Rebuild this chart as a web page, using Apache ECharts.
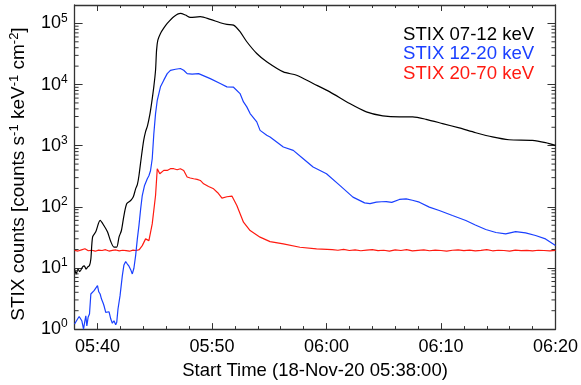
<!DOCTYPE html>
<html>
<head>
<meta charset="utf-8">
<script src="https://cdn.jsdelivr.net/npm/echarts@6/dist/echarts.min.js"></script>
<style>
  html, body { margin: 0; padding: 0; background: #fff; }
  #chart { width: 581px; height: 385px; }
</style>
</head>
<body>
<div id="chart"></div>
<script>
// Time is in minutes after the start time 05:38:00 (18-Nov-20).
const startHour = 5;
const startMinute = 38;
const timeSpan = 42;

const seriesNames = ['STIX 07-12 keV', 'STIX 12-20 keV', 'STIX 20-70 keV'];
const seriesColors = ['#000000', '#1a40ff', '#ff1a10'];

// Labelled (major) time ticks, minutes after start: 05:40 ... 06:20
const majorTimeTicks = [2, 12, 22, 32, 42];
// Minor log ticks inside each decade
const minorMultipliers = [2, 3, 4, 5, 6, 7, 8, 9];
const decades = [1, 10, 100, 1000, 10000, 100000];

// STIX 07-12 keV
const lowTime = [0.0, 0.15, 0.3, 0.45, 0.7, 0.85, 1.0, 1.15, 1.3, 1.42, 1.57, 1.85, 2.23, 2.57, 2.87,
  3.16, 3.44, 3.68, 3.88, 4.09, 4.31, 4.55, 4.9, 5.13, 5.33, 5.48, 5.62, 5.81, 6.03, 6.2, 6.37,
  6.57, 6.72, 6.92, 7.07, 7.16, 7.27, 7.5, 7.77, 8.09, 8.66, 9.24, 9.68, 10.11, 10.98, 11.85,
  12.72, 13.3, 13.88, 14.45, 15.04, 15.91, 16.78, 18.23, 19.39, 20.83, 22.29, 24.03, 25.48,
  26.92, 28.37, 29.53, 30.7, 32.14, 33.59, 35.04, 36.49, 37.94, 39.97, 41.13, 42.0];
const lowCounts = [9.6, 8.0, 9.6, 8.7, 10.4, 10.8, 9.6, 10.4, 11.0, 14, 32, 39, 60, 49, 39,
  27, 22, 22, 32, 41, 72, 112, 127, 146, 197, 230, 322, 612, 1210, 1700, 2130,
  3220, 4880, 9270, 17100, 36500, 53200, 68600, 82800, 100000, 128800, 146000, 137000, 125400, 128800, 116300,
  102600, 96300, 93800, 73100, 50100, 32200, 23600, 16100, 14200, 10400, 7590, 4880, 3570,
  3070, 2950, 2950, 2700, 2300, 1950, 1630, 1390, 1250, 1220, 1120, 1010];

// STIX 12-20 keV
const midTime = [0.0, 0.11, 0.26, 0.4, 0.55, 0.63, 0.78, 0.9, 0.98, 1.07, 1.18, 1.3, 1.42, 1.53,
  1.7, 1.85, 2.0, 2.11, 2.23, 2.35, 2.49, 2.57, 2.72, 2.87, 3.01, 3.16, 3.3, 3.44, 3.59, 3.68,
  3.79, 3.97, 4.17, 4.31, 4.46, 4.61, 4.75, 4.9, 5.04, 5.18, 5.33, 5.48, 5.62, 5.77, 5.91, 6.11,
  6.35, 6.49, 6.63, 6.78, 6.92, 7.07, 7.22, 7.36, 7.5, 7.79, 8.09, 8.37, 8.81, 9.24, 9.53, 9.83,
  10.26, 10.83, 11.85, 12.72, 13.3, 13.88, 14.45, 14.75, 15.04, 15.33, 15.91, 16.2, 16.78, 17.07,
  18.23, 19.1, 19.97, 20.83, 22.0, 23.16, 24.31, 25.33, 25.8, 26.35, 26.8, 27.22, 27.7, 28.37,
  28.96, 29.5, 30.11, 30.98, 31.85, 33.0, 34.17, 35.0, 35.91, 36.8, 37.65, 38.52, 39.39, 40.26,
  41.13, 42.0];
const midCounts = [1.21, 1.29, 1.46, 1.61, 1.70, 1.37, 1.0, 1.37, 1.65, 1.13, 1.56, 1.76, 3.75, 4.0,
  4.25, 4.53, 5.13, 4.08, 3.75, 3.1, 2.67, 2.41, 1.88, 2.0, 1.92, 1.46, 1.25, 1.37, 1.18, 1.29,
  2.13, 3.52, 7.48, 11.2, 12.7, 11.6, 10.7, 9.38, 7.98, 9.89, 15.9, 29.9, 49.3, 92.7, 153, 224,
  288, 322, 389, 612, 1570, 3350, 5530, 7120, 9170, 11800, 15100, 17100, 17800, 18300, 17100, 15100,
  14800, 15100, 12500, 10400, 9170, 9040, 7120, 5200, 4310, 3350, 2450, 1780, 1480, 1390,
  953, 838, 612, 448, 347, 224, 144, 116, 113, 119, 121, 122, 118, 132,
  135, 128, 119, 98.9, 87, 72, 59.6, 50.5, 42.5, 38.0, 36.1, 39.4, 37.5, 33.9,
  29.9, 23.2];

// STIX 20-70 keV
const highTime = [0.0, 0.3, 0.6, 0.9, 1.2, 1.5, 1.8, 2.1, 2.4, 2.7, 3.0, 3.3, 3.6, 3.9, 4.2, 4.5,
  4.8, 5.1, 5.4, 5.65, 5.91, 6.2, 6.49, 6.63, 6.78, 7.07, 7.22, 7.44, 7.6, 7.79, 7.95, 8.09, 8.25,
  8.37, 8.5, 8.66, 8.8, 8.96, 9.1, 9.24, 9.4, 9.53, 9.83, 10.1, 10.4, 10.7, 10.98, 11.27, 11.7,
  12.14, 12.5, 12.87, 13.3, 13.74, 14.17, 14.75, 15.33, 16.2, 17.07, 18.23, 19.68, 21.13,
  22.5, 23.0, 23.5, 24.0, 24.5, 25.0, 25.5, 26.0, 26.5, 27.0, 27.5, 28.0, 28.5, 29.0, 29.5, 30.0,
  30.5, 31.0, 31.5, 32.0, 32.5, 33.0, 33.5, 34.0, 34.5, 35.0, 35.5, 36.0, 36.5, 37.0, 37.5, 38.0,
  38.5, 39.0, 39.5, 40.0, 40.5, 41.0, 41.5, 42.0];
const highCounts = [19.4, 18.9, 19.8, 20.6, 19.1, 19.5, 18.8, 19.6, 19.3, 19.9, 18.9, 19.4, 19.7, 19.0, 19.5, 19.2,
  18.8, 19.6, 19.3, 20.0, 23.2, 29.9, 28.0, 29.9, 52.6, 153, 420, 347, 372, 394, 380, 394, 410,
  420, 405, 420, 398, 404, 415, 420, 400, 394, 307, 296, 288, 281, 270, 238, 215,
  197, 170, 139, 146, 150, 105, 56.1, 40.9, 31.9, 27.0, 24.7, 21.8, 20.5,
  19.9, 19.5, 20.2, 19.3, 19.8, 19.1, 19.6, 20.0, 19.2, 19.5, 18.9, 19.7, 19.3, 19.9, 19.0, 19.4,
  19.8, 19.1, 19.6, 19.3, 18.9, 19.5, 19.8, 19.2, 19.6, 19.0, 19.4, 19.9, 19.1, 19.5, 19.3, 18.9,
  19.6, 19.2, 19.4, 19.0, 19.5, 19.3, 19.1, 19.4];

const FONT = '"Liberation Sans", Arial, Helvetica, sans-serif';
const AXIS_COLOR = '#333333';

function pairs(t, v) { return t.map((x, i) => [x, v[i]]); }

function clockLabel(m) {
  const total = startHour * 60 + startMinute + Math.round(m);
  const h = Math.floor(total / 60), mm = total % 60;
  return String(h).padStart(2, '0') + ':' + String(mm).padStart(2, '0');
}

const minorValues = [];
decades.forEach(d => minorMultipliers.forEach(k => {
  if (d * k < 200000) minorValues.push(d * k);
}));

function timeAxis(position, major, withLabels) {
  return {
    type: 'value', position: position, min: 0, max: timeSpan,
    interval: major ? undefined : 2,
    axisLine: { show: major, onZero: false, lineStyle: { color: AXIS_COLOR, width: 1.3 } },
    axisTick: major
      ? { show: true, inside: true, length: 6, customValues: majorTimeTicks, lineStyle: { color: AXIS_COLOR, width: 1 } }
      : { show: true, inside: true, length: 3, lineStyle: { color: AXIS_COLOR, width: 1 } },
    axisLabel: withLabels
      ? { show: true, customValues: majorTimeTicks, formatter: clockLabel, fontFamily: FONT, fontSize: 18, color: '#000', margin: 9 }
      : { show: false },
    splitLine: { show: false }
  };
}

const xAxes = [
  Object.assign(timeAxis('bottom', true, true), {
    name: 'Start Time (18-Nov-20 05:38:00)', nameLocation: 'middle', nameGap: 28,
    nameTextStyle: { fontFamily: FONT, fontSize: 18.5, color: '#000' }
  }),
  timeAxis('bottom', false, false),
  timeAxis('top', true, false),
  timeAxis('top', false, false)
];

function powerLabel(v) {
  const p = Math.round(Math.log10(v));
  if (Math.abs(Math.pow(10, p) - v) / v > 1e-6) return '';
  return '{b|10}{s|' + p + '}';
}

const yAxes = [
  {
    type: 'log', logBase: 10, position: 'left', min: 1, max: 200000,
    axisLine: { show: true, onZero: false, lineStyle: { color: AXIS_COLOR, width: 1.3 } },
    axisTick: { show: true, inside: true, length: 8, lineStyle: { color: AXIS_COLOR, width: 1 } },
    axisLabel: {
      formatter: powerLabel, margin: 7, showMaxLabel: false,
      rich: {
        b: { fontFamily: FONT, fontSize: 18, color: '#000', lineHeight: 22 },
        s: { fontFamily: FONT, fontSize: 12, color: '#000', lineHeight: 12, verticalAlign: 'top' }
      }
    },
    splitLine: { show: false },
    name: 'STIX counts [counts s{s|-1} keV{s|-1} cm{s|-2}]',
    nameLocation: 'middle', nameRotate: 90, nameGap: 44,
    nameTextStyle: {
      fontFamily: FONT, fontSize: 19, color: '#000', lineHeight: 22, padding: [0, 14, 0, 0],
      rich: { s: { fontFamily: FONT, fontSize: 13, color: '#000', lineHeight: 12, verticalAlign: 'top' } }
    }
  },
  {
    type: 'log', logBase: 10, position: 'right', min: 1, max: 200000,
    axisLine: { show: true, onZero: false, lineStyle: { color: AXIS_COLOR, width: 1.3 } },
    axisTick: { show: true, inside: true, length: 8, lineStyle: { color: AXIS_COLOR, width: 1 } },
    axisLabel: { show: false },
    splitLine: { show: false }
  }
];

function lineSeries(idx, t, v, smooth) {
  return {
    type: 'line', name: seriesNames[idx], data: pairs(t, v),
    xAxisIndex: 0, yAxisIndex: 0, showSymbol: false, symbol: 'none', smooth: smooth,
    lineStyle: { color: seriesColors[idx], width: 1.2 },
    itemStyle: { color: seriesColors[idx] },
    emphasis: { disabled: true }, z: 3 - idx
  };
}

// Short inward minor ticks at 2..9 x 10^k, drawn on one vertical frame edge
function minorTickSeries(edgeTime, dir) {
  return {
    type: 'custom', silent: true, z: 10, clip: false,
    xAxisIndex: 0, yAxisIndex: 0,
    data: minorValues.map(v => [edgeTime, v]),
    renderItem: function (params, api) {
      const p = api.coord([api.value(0), api.value(1)]);
      return {
        type: 'line',
        shape: { x1: p[0], y1: p[1], x2: p[0] + dir * 4, y2: p[1] },
        style: { stroke: AXIS_COLOR, lineWidth: 1 }
      };
    }
  };
}

const chart = echarts.init(document.getElementById('chart'), null, { renderer: 'canvas' });
chart.setOption({
  animation: false,
  backgroundColor: '#ffffff',
  grid: { left: 74, right: 24, top: 5, bottom: 55, containLabel: false },
  xAxis: xAxes,
  yAxis: yAxes,
  legend: {
    orient: 'vertical', left: 393, top: 20, itemGap: 0.5,
    itemWidth: 0, itemHeight: 0, icon: 'rect', selectedMode: false,
    data: seriesNames.map((n, i) => ({ name: n, textStyle: { color: seriesColors[i] } })),
    textStyle: { fontFamily: FONT, fontSize: 18.6, lineHeight: 17 }
  },
  series: [
    lineSeries(2, highTime, highCounts, false),
    lineSeries(1, midTime, midCounts, false),
    lineSeries(0, lowTime, lowCounts, 0.25),
    minorTickSeries(0, 1),
    minorTickSeries(timeSpan, -1)
  ]
});
</script>
</body>
</html>
